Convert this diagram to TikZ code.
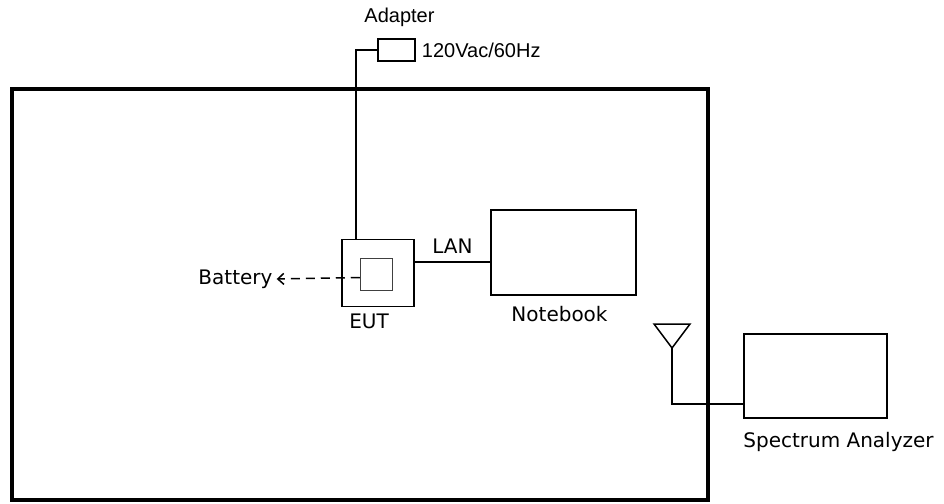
\documentclass[tikz,border=0pt]{standalone}
\usepackage{fontspec}
\setmainfont{DejaVu Sans}
\newfontfamily\arialfont{Liberation Sans}
\usetikzlibrary{positioning, arrows.meta}

\tikzset{
  box/.style={draw, line width=1.5pt, inner sep=0pt},
  wire/.style={line width=1.5pt},
  lbl/.style={font=\fontsize{20}{23}\selectfont, inner sep=0pt},
  albl/.style={font=\arialfont\fontsize{20}{24}\selectfont, inner sep=0pt},
}

\begin{document}
\begin{tikzpicture}[x=1pt, y=-1pt]
        \useasboundingbox (0,0) rectangle (944,503);
        \draw[line width=4pt] (12,89) rectangle (708,500);

        \node[box, minimum width=37pt, minimum height=22pt] (adapter) at (396.5,50) {};
        \node[albl, above=11pt of adapter, xshift=3pt] (adaptertxt) {Adapter};
        \node[albl, right=6pt of adapter] (mains) {120Vac/60Hz};

        \node[box, minimum width=72pt, minimum height=67pt] (eut) at (378,273) {};
        \node[box, draw=black!75, minimum size=32pt] (eutin) at (376.5,274.5) {};
        \node[lbl, below=6pt of eut, xshift=-9pt] (euttxt) {EUT};
        \node[lbl] (battery) at (235.5,279) {Battery};

        \node[box, minimum width=145pt, minimum height=85pt] (notebook) at (563.5,252.5) {};
        \node[lbl, below=10pt of notebook, xshift=-4pt] (notebooktxt) {Notebook};

        \node[box, minimum width=143pt, minimum height=84pt] (sa) at (815.5,376) {};
        \node[lbl, below=13pt of sa, xshift=23pt] (satxt) {Spectrum Analyzer};
        \coordinate (ant) at (672,348);

        \draw[wire] (adapter.west) -| ([xshift=-22pt]eut.north);
        \draw[wire] ([yshift=11pt]eut.east) -- node[lbl, above=8pt] (lan) {LAN} ([yshift=11pt]eut.east -| notebook.west);
        \draw[wire, dash pattern=on 9pt off 6pt, -{Straight Barb[length=6pt, width=11pt]}] ([yshift=-3pt]eutin.west) -- ([xshift=4pt]battery.east);
        \draw[wire, line join=miter] (ant) -- ++(-18,-24) -- ++(36,0) -- cycle;
        \draw[wire] (ant) |- ([yshift=-28pt]sa.west);
    \end{tikzpicture}
\end{document}
